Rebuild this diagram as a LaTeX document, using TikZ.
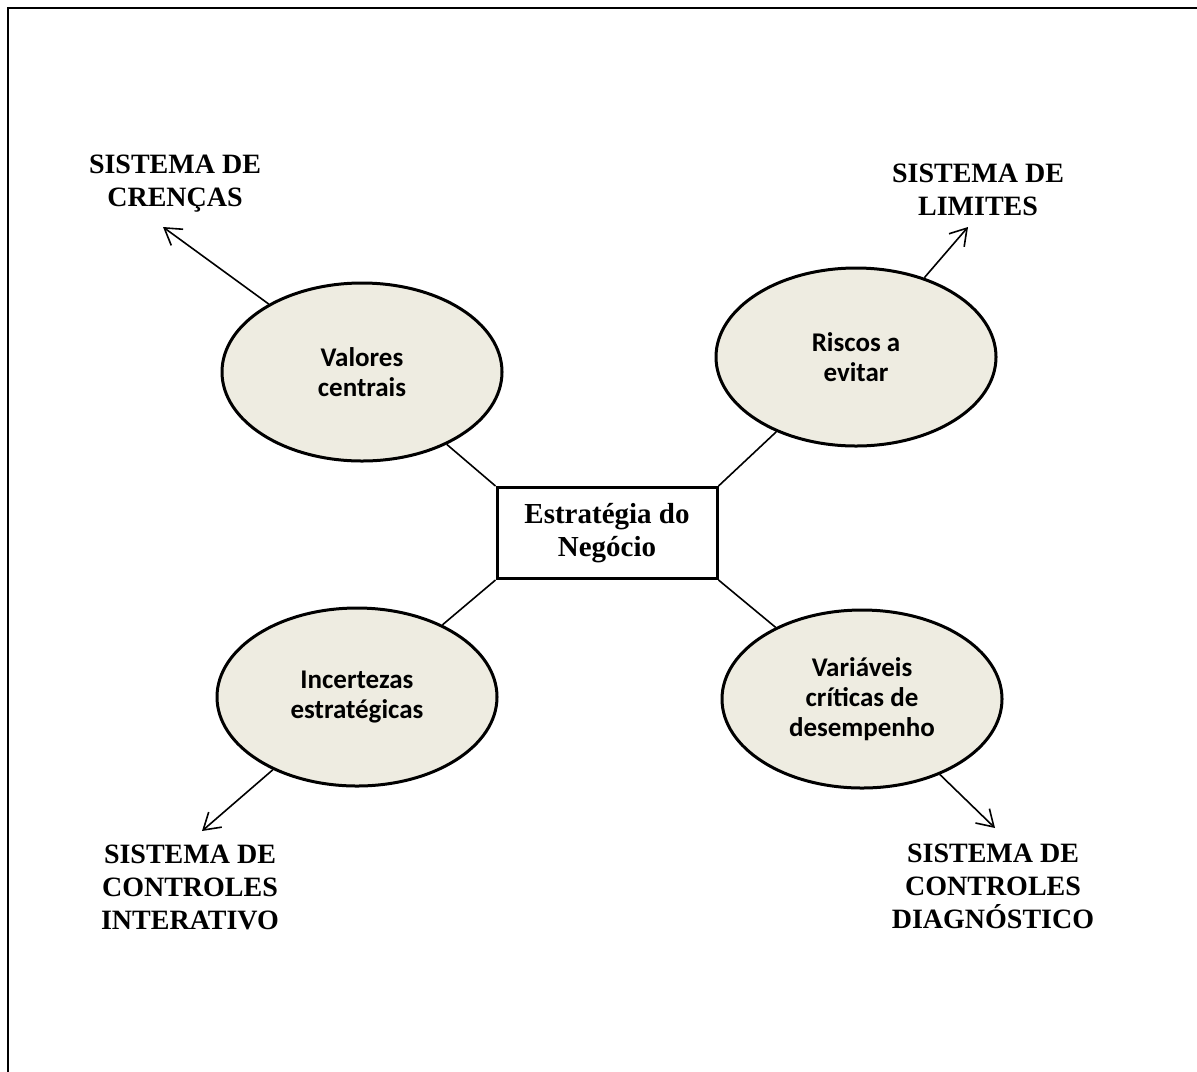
\documentclass[tikz,border=0pt]{standalone}
\usepackage{fontspec}
\setmainfont{Liberation Serif}
\newfontfamily\ovalfont{Carlito}
\usepackage{tikz}
\usetikzlibrary{arrows.meta, shapes.geometric}
\definecolor{ovalfill}{RGB}{238,236,225}

\begin{document}
\begin{tikzpicture}[x=0.5pt, y=-0.5pt,
  >={Straight Barb[length=8pt, width=10pt]},
  oval/.style={
    ellipse, draw=black, line width=1.5pt, fill=ovalfill,
    minimum width=140pt, minimum height=89pt, inner sep=0pt,
    align=center, font=\ovalfont\bfseries\fontsize{13.5}{15}\selectfont,
  },
  core/.style={
    rectangle, draw=black, line width=1.5pt,
    minimum width=110pt, minimum height=45.5pt,
    align=center, font=\bfseries\fontsize{14.5}{16.5}\selectfont,
  },
  syslabel/.style={
    align=center, font=\bfseries\fontsize{14}{16.5}\selectfont,
  },
  link/.style={line width=0.8pt},
  arr/.style={->, line width=0.8pt},
]
\useasboundingbox (0,0) rectangle (1197,1071);

% --- Frame ---
\draw[line width=1.4pt] (8,1090) -- (8,8) -- (1210,8);

% --- Centre ---
\node[core] (estrategia) at (607,533) {Estratégia do\\Negócio};

% --- Ovals ---
\node[oval] (valores) at (362,372) {Valores\\centrais};
\node[oval] (riscos) at (856,357) {Riscos a\\evitar};
\node[oval] (incertezas) at (357,697) {Incertezas\\estratégicas};
\node[oval] (variaveis) at (862,699) {Variáveis\\críticas de\\desempenho};

% --- Systems ---
\node[syslabel] (crencas) at (175,184) {SISTEMA DE\\CRENÇAS};
\node[syslabel] (limites) at (978,190) {SISTEMA DE\\LIMITES};
\node[syslabel] (interativo) at (190,887) {SISTEMA DE\\CONTROLES\\INTERATIVO};
\node[syslabel] (diagnostico) at (993,886) {SISTEMA DE\\CONTROLES\\DIAGNÓSTICO};

\coordinate (tipC) at (163,227);
\coordinate (tipL) at (968,227);
\coordinate (tipI) at (202,831);
\coordinate (tipD) at (995,828);

% --- Links ---
\draw[link] (estrategia.north west) -- (valores);
\draw[link] (estrategia.north east) -- (riscos);
\draw[link] (estrategia.south west) -- (incertezas);
\draw[link] (estrategia.south east) -- (variaveis);

\draw[arr] (valores) -- (tipC);
\draw[arr] (riscos) -- (tipL);
\draw[arr] (incertezas) -- (tipI);
\draw[arr] (variaveis) -- (tipD);

\end{tikzpicture}
\end{document}
